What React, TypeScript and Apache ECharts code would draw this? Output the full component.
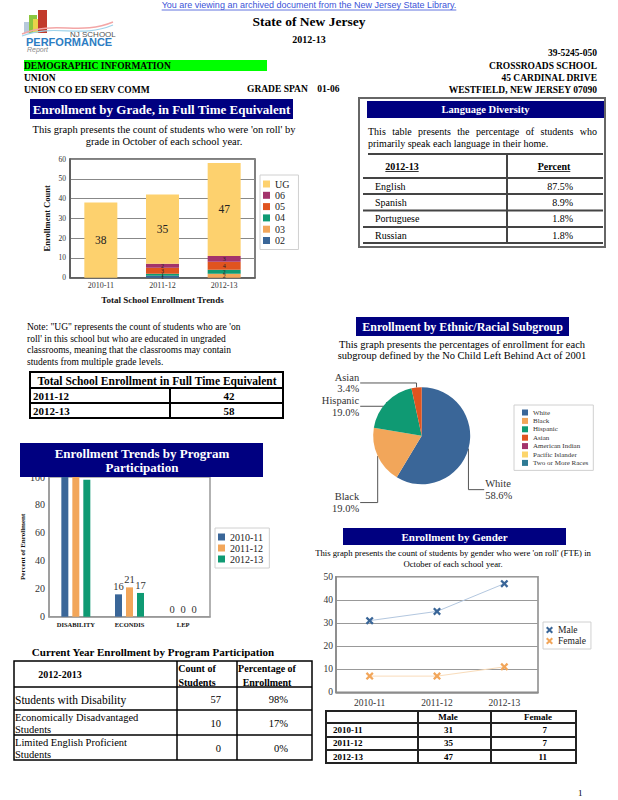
import React, { useEffect, useRef } from "react";
import * as echarts from "echarts";

// ---------------- DATA ----------------
const gradeYears = ["2010-11", "2011-12", "2012-13"];
const gradeLegendOrder = ["UG", "06", "05", "04", "03", "02"];
const grade02 = [0, 1, 0];
const grade03 = [0, 0, 2];
const grade04 = [0, 1, 2];
const grade05 = [0, 3, 4];
const grade06 = [0, 2, 3];
const gradeUG = [38, 35, 47];

const programCats = ["DISABILITY", "ECONDIS", "LEP"];
const programYears = ["2010-11", "2011-12", "2012-13"];
const program1011 = [100, 16, 0];
const program1112 = [100, 21, 0];
const program1213 = [98, 17, 0];

const ethnicNames = ["White", "Black", "Hispanic", "Asian", "American Indian", "Pacific Islander", "Two or More Races"];
const ethnicValues = [58.6, 19.0, 19.0, 3.4, 0, 0, 0];

const genderYears = ["2010-11", "2011-12", "2012-13"];
const maleValues = [31, 35, 47];
const femaleValues = [7, 7, 11];

const languageNames = ["English", "Spanish", "Portuguese", "Russian"];
const languagePercents = ["87.5%", "8.9%", "1.8%", "1.8%"];

const totalYears = ["2011-12", "2012-13"];
const totalValues = ["42", "58"];

const currentRowLabels = [["Students with Disability"], ["Economically Disadvantaged", "Students"], ["Limited English Proficient", "Students"]];
const currentCounts = ["57", "10", "0"];
const currentPercents = ["98%", "17%", "0%"];

// ---------------- STYLE ----------------
const SERIF = '"Liberation Serif", "Times New Roman", serif';
const SANS = '"Liberation Sans", Arial, sans-serif';
const NAVY = "#000080";
const C_BLUE = "#3a6698";
const C_LORANGE = "#f2a65a";
const C_GREEN = "#0f9a73";
const C_RED = "#e0541f";
const C_PURPLE = "#a3336b";
const C_YELLOW = "#fdd16e";
const C_TEAL = "#2e7a94";
const gradeColors: Record<string, string> = { "02": C_BLUE, "03": C_LORANGE, "04": C_GREEN, "05": C_RED, "06": C_PURPLE, UG: C_YELLOW };
const ethnicColors = [C_BLUE, C_LORANGE, C_GREEN, C_RED, C_PURPLE, "#fcd56b", C_TEAL];
const XPATH = "path://M2,0 L5,3 L8,0 L10,2 L7,5 L10,8 L8,10 L5,7 L2,10 L0,8 L3,5 L0,2 Z";

type TO = { size?: number; bold?: boolean; italic?: boolean; fill?: string; align?: string; family?: string };
function fontOf(o: TO) {
  return `${o.italic ? "italic " : ""}${o.bold ? "bold " : ""}${o.size ?? 10}px ${o.family ?? SERIF}`;
}
function T(x: number, y: number, text: string, o: TO = {}) {
  const a = o.align ?? "left";
  return {
    type: "text", x, y, z: 100, silent: true,
    style: { text, font: fontOf(o), fill: o.fill ?? "#000", textAlign: a, textVerticalAlign: "middle", align: a, verticalAlign: "middle" },
  };
}
function R(x: number, y: number, w: number, h: number, fill: string, stroke?: string, lw = 1) {
  return { type: "rect", z: 99, silent: true, shape: { x, y, width: w, height: h }, style: { fill, stroke: stroke ?? "none", lineWidth: stroke ? lw : 0 } };
}
function L(x1: number, y1: number, x2: number, y2: number, stroke = "#000", lw = 1) {
  return { type: "line", z: 100, silent: true, shape: { x1, y1, x2, y2 }, style: { stroke, lineWidth: lw } };
}
let ctx: CanvasRenderingContext2D | null = null;
function measure(text: string, o: TO) {
  if (!ctx) ctx = document.createElement("canvas").getContext("2d");
  if (!ctx) return text.length * (o.size ?? 10) * 0.5;
  ctx.font = fontOf(o);
  return ctx.measureText(text).width;
}
function justify(x1: number, x2: number, y: number, text: string, o: TO) {
  const words = text.split(" ");
  const ws = words.map((w) => measure(w, o));
  const sum = ws.reduce((a, b) => a + b, 0);
  const gap = (x2 - x1 - sum) / (words.length - 1);
  const out: any[] = [];
  let x = x1;
  words.forEach((w, i) => {
    out.push(T(x, y, w, o));
    x += ws[i] + gap;
  });
  return out;
}

function buildGraphic() {
  const g: any[] = [];
  // archive link
  const linkO: TO = { size: 9, family: SANS, fill: "#3a52d8", align: "center" };
  g.push(T(309, 5, "You are viewing an archived document from the New Jersey State Library.", linkO));
  const lw = measure("You are viewing an archived document from the New Jersey State Library.", linkO);
  g.push(L(309 - lw / 2, 10, 309 + lw / 2, 10, "#3a52d8", 0.8));

  // logo
  g.push(R(24, 22, 5, 11, "#b7c9db"));
  g.push(R(29, 15, 8, 18, "#8cc63f"));
  g.push(R(33, 19, 5, 14, "#e8d34a"));
  g.push(R(38, 10, 9, 23, "#c23a2b"));
  g.push({ type: "bezierCurve", z: 100, silent: true, shape: { x1: 22, y1: 34, cpx1: 55, cpy1: 20, cpx2: 80, cpy2: 36, x2: 113, y2: 22 }, style: { stroke: "#f3a6a6", lineWidth: 1.4, fill: "none" } });
  g.push({ type: "bezierCurve", z: 100, silent: true, shape: { x1: 22, y1: 36, cpx1: 55, cpy1: 23, cpx2: 80, cpy2: 39, x2: 113, y2: 25 }, style: { stroke: "#9fd3ea", lineWidth: 1.2, fill: "none" } });
  g.push(T(70, 34, "NJ SCHOOL", { size: 8, family: SANS, fill: "#555" }));
  g.push(T(26, 41.5, "PERFORMANCE", { size: 11, bold: true, family: SANS, fill: "#2c7dc3" }));
  g.push(T(27, 49.5, "Report", { size: 7, italic: true, family: SANS, fill: "#888" }));

  // header texts
  g.push(T(309, 21, "State of New Jersey", { size: 13.5, bold: true, align: "center" }));
  g.push(T(309, 39, "2012-13", { size: 10, bold: true, align: "center" }));
  g.push(T(597, 53, "39-5245-050", { size: 9.5, bold: true, align: "right" }));
  g.push(R(24, 60, 243, 11, "#00ff00"));
  g.push(T(24, 66, "DEMOGRAPHIC INFORMATION", { size: 9.5, bold: true }));
  g.push(T(597, 66, "CROSSROADS SCHOOL", { size: 9.5, bold: true, align: "right" }));
  g.push(T(24, 78, "UNION", { size: 9.5, bold: true }));
  g.push(T(597, 78, "45 CARDINAL DRIVE", { size: 9.5, bold: true, align: "right" }));
  g.push(T(24, 90, "UNION CO ED SERV COMM", { size: 9.5, bold: true }));
  g.push(T(247, 89, "GRADE SPAN    01-06", { size: 9.5, bold: true }));
  g.push(T(597, 90, "WESTFIELD, NEW JERSEY 07090", { size: 9.5, bold: true, align: "right" }));

  // Enrollment by grade header
  g.push(R(30, 99, 263, 20, NAVY));
  g.push(T(161.5, 109, "Enrollment by Grade, in Full Time Equivalent", { size: 13, bold: true, fill: "#fff", align: "center" }));
  g.push(T(164, 129, "This graph presents the count of students who were 'on roll' by", { size: 10.5, align: "center" }));
  g.push(T(164, 141, "grade in October of each school year.", { size: 10.5, align: "center" }));

  // Language diversity
  g.push(R(359, 98, 246, 149, "none", "#666", 2));
  g.push(R(367, 101, 237, 17, NAVY));
  g.push(T(485.5, 109.5, "Language Diversity", { size: 10.5, bold: true, fill: "#fff", align: "center" }));
  g.push(...justify(368, 597, 131, "This table presents the percentage of students who", { size: 10 }));
  g.push(T(368, 143, "primarily speak each language in their home.", { size: 10 }));
  const lRows = [154, 178, 194, 210.5, 227, 243];
  g.push(L(368, lRows[0], 603, lRows[0], "#444", 2));
  for (let i = 1; i < lRows.length; i++) g.push(L(363, lRows[i], 603, lRows[i], "#444", 2));
  g.push(L(507, lRows[0], 507, lRows[lRows.length - 1], "#444", 2));
  const hO: TO = { size: 10, bold: true, align: "center" };
  g.push(T(402, 166, "2012-13", hO));
  const w1 = measure("2012-13", hO);
  g.push(L(402 - w1 / 2, 171.5, 402 + w1 / 2, 171.5, "#000", 0.8));
  g.push(T(554, 166, "Percent", hO));
  const w2 = measure("Percent", hO);
  g.push(L(554 - w2 / 2, 171.5, 554 + w2 / 2, 171.5, "#000", 0.8));
  languageNames.forEach((n, i) => {
    const y = (lRows[i + 1] + lRows[i + 2]) / 2;
    g.push(T(375, y, n, { size: 10 }));
    g.push(T(573, y, languagePercents[i], { size: 10, align: "right" }));
  });

  // Note
  const noteLines = [
    "Note: \"UG\" represents the count of students who are 'on",
    "roll' in this school but who are educated in ungraded",
    "classrooms, meaning that the classrooms may contain",
    "students from multiple grade levels.",
  ];
  noteLines.forEach((t, i) => g.push(T(27, 327 + i * 11.6, t, { size: 9.5 })));

  // Total enrollment table
  g.push(R(30, 372, 253, 46, "none", "#000", 2));
  g.push(L(30, 388, 283, 388, "#000", 2));
  g.push(L(30, 403, 283, 403, "#000", 2));
  g.push(L(170, 388, 170, 418, "#000", 2));
  g.push(T(157, 380.5, "Total School Enrollment in Full Time Equivalent", { size: 11.5, bold: true, align: "center" }));
  totalYears.forEach((y, i) => {
    const cy = 395.5 + i * 15;
    g.push(T(33, cy, y, { size: 11, bold: true }));
    g.push(T(229, cy, totalValues[i], { size: 11, bold: true, align: "center" }));
  });

  // Program participation header
  g.push(R(20, 443, 243, 34, NAVY));
  g.push(T(142, 453.5, "Enrollment Trends by Program", { size: 13, bold: true, fill: "#fff", align: "center" }));
  g.push(T(142, 467, "Participation", { size: 13, bold: true, fill: "#fff", align: "center" }));

  // Current Year table
  g.push(T(153, 652, "Current Year Enrollment by Program Participation", { size: 11, bold: true, align: "center" }));
  g.push(R(14, 661, 298, 99, "none", "#000", 1.5));
  [687, 710, 735].forEach((y) => g.push(L(14, y, 312, y, "#000", 1.5)));
  g.push(L(177, 661, 177, 760, "#000", 1.5));
  g.push(L(237, 661, 237, 760, "#000", 1.5));
  g.push(T(60, 674, "2012-2013", { size: 10, bold: true, align: "center" }));
  g.push(T(197, 668, "Count of", { size: 10, bold: true, align: "center" }));
  g.push(T(197, 682, "Students", { size: 10, bold: true, align: "center" }));
  g.push(T(267, 668, "Percentage of", { size: 10, bold: true, align: "center" }));
  g.push(T(267, 682, "Enrollment", { size: 10, bold: true, align: "center" }));
  const cRows = [[687, 710], [710, 735], [735, 760]];
  currentRowLabels.forEach((lines, i) => {
    const [a, b] = cRows[i];
    const mid = (a + b) / 2;
    if (lines.length === 1) g.push(T(15, mid + 1, lines[0], { size: 11.5 }));
    else {
      g.push(T(15, mid - 5.5, lines[0], { size: 10.5 }));
      g.push(T(15, mid + 6.5, lines[1], { size: 10.5 }));
    }
    g.push(T(221, mid + 1, currentCounts[i], { size: 10.5, align: "right" }));
    g.push(T(288, mid + 1, currentPercents[i], { size: 10.5, align: "right" }));
  });

  // Ethnic header
  g.push(R(356, 317, 213, 19, NAVY));
  g.push(T(462.5, 326.5, "Enrollment by Ethnic/Racial Subgroup", { size: 12, bold: true, fill: "#fff", align: "center" }));
  g.push(T(462, 344, "This graph presents the percentages of enrollment for each", { size: 10.5, align: "center" }));
  g.push(T(462, 355.5, "subgroup defined by the No Child Left Behind Act of 2001", { size: 10.5, align: "center" }));

  // Gender header
  g.push(R(343, 528, 223, 17, NAVY));
  g.push(T(454.5, 536.5, "Enrollment by Gender", { size: 11, bold: true, fill: "#fff", align: "center" }));
  g.push(T(453, 553, "This graph presents the count of students by gender who were 'on roll' (FTE) in", { size: 8.7, align: "center" }));
  g.push(T(453, 563.5, "October of each school year.", { size: 8.7, align: "center" }));

  // Gender table
  g.push(R(326, 711, 250, 52, "none", "#222", 2));
  [723, 737, 750].forEach((y) => g.push(L(326, y, 576, y, "#222", 2)));
  g.push(L(418, 711, 418, 763, "#222", 2));
  g.push(L(491, 711, 491, 763, "#222", 2));
  g.push(T(448, 717, "Male", { size: 9, bold: true, align: "center" }));
  g.push(T(538, 717, "Female", { size: 9, bold: true, align: "center" }));
  genderYears.forEach((y, i) => {
    const cy = 730 + i * 13.3;
    g.push(T(333, cy, y, { size: 9, bold: true }));
    g.push(T(448.5, cy, String(maleValues[i]), { size: 9, bold: true, align: "center" }));
    g.push(T(547, cy, String(femaleValues[i]), { size: 9, bold: true, align: "right" }));
  });

  g.push(T(578, 793, "1", { size: 9 }));
  return g;
}

const pieCX = 421.7;
const pieCY = 435.7;
const pieR = 48.5;
const pieLabelDrop: Record<string, number> = { White: 41, Black: 46.5, Hispanic: 4, Asian: -4.5 };

function buildOption(): any {
  const axisLab = { fontFamily: SERIF, color: "#333" };
  const gradeSeriesData: Record<string, number[]> = { "02": grade02, "03": grade03, "04": grade04, "05": grade05, "06": grade06, UG: gradeUG };
  const gradeSeries = ["02", "03", "04", "05", "06", "UG"].map((k) => ({
    name: k,
    type: "bar",
    xAxisIndex: 0,
    yAxisIndex: 0,
    stack: "grade",
    barWidth: 33,
    data: gradeSeriesData[k],
    itemStyle: { color: gradeColors[k] },
    label: {
      show: true,
      position: "inside",
      fontFamily: SERIF,
      fontSize: k === "UG" ? 11.5 : 6,
      color: "#222",
      formatter: (p: any) => (p.value ? String(p.value) : ""),
    },
  }));
  const progData = [program1011, program1112, program1213];
  const progColors = [C_BLUE, C_LORANGE, C_GREEN];
  const programSeries = programYears.map((y, i) => ({
    name: y,
    type: "bar",
    xAxisIndex: 1,
    yAxisIndex: 1,
    barWidth: 7,
    barGap: "57%",
    data: progData[i],
    itemStyle: { color: progColors[i] },
    label: { show: true, position: "top", distance: 2, fontFamily: SERIF, fontSize: 10.5, color: "#333" },
  }));
  const legendBase = {
    orient: "vertical",
    selectedMode: false,
    icon: "rect",
    borderColor: "#d0d0d0",
    borderWidth: 1,
    backgroundColor: "#fff",
  };
  return {
    animation: false,
    textStyle: { fontFamily: SERIF },
    grid: [
      { left: 70, top: 159, width: 185, height: 118.7, show: true, borderColor: "#555", borderWidth: 1.5, backgroundColor: "transparent", outerBoundsMode: "none" },
      { left: 49, top: 477, width: 161, height: 139.7, show: true, borderColor: "#999", borderWidth: 1.5, backgroundColor: "transparent", outerBoundsMode: "none" },
      { left: 336, top: 576.7, width: 202, height: 115.6, show: true, borderColor: "#888", borderWidth: 1.5, backgroundColor: "transparent", outerBoundsMode: "none" },
    ],
    xAxis: [
      {
        gridIndex: 0, type: "category", data: gradeYears,
        axisTick: { show: false }, axisLine: { lineStyle: { color: "#555", width: 1.5 } },
        axisLabel: { ...axisLab, fontSize: 8, margin: 4 },
        name: "Total School Enrollment Trends", nameLocation: "middle", nameGap: 18,
        nameTextStyle: { fontFamily: SERIF, fontWeight: "bold", fontSize: 9, color: "#111" },
      },
      {
        gridIndex: 1, type: "category", data: programCats,
        axisTick: { show: false }, axisLine: { lineStyle: { color: "#999", width: 1.5 } },
        axisLabel: { ...axisLab, fontSize: 6.5, fontWeight: "bold", margin: 4, color: "#111" },
      },
      {
        gridIndex: 2, type: "category", data: genderYears,
        axisTick: { show: false }, axisLine: { lineStyle: { color: "#888", width: 1.5 } },
        axisLabel: { ...axisLab, fontSize: 9.5, margin: 6 },
      },
    ],
    yAxis: [
      {
        gridIndex: 0, type: "value", min: 0, max: 60, interval: 10,
        axisLine: { show: true, lineStyle: { color: "#555", width: 1.5 } }, axisTick: { show: false },
        splitLine: { lineStyle: { color: "#888", width: 1 } },
        axisLabel: { ...axisLab, fontSize: 7.5, margin: 4 },
        name: "Enrollment Count", nameLocation: "middle", nameGap: 19, nameRotate: 90,
        nameTextStyle: { fontFamily: SERIF, fontWeight: "bold", fontSize: 8.5, color: "#111" },
      },
      {
        gridIndex: 1, type: "value", min: 0, max: 100, interval: 20,
        axisLine: { show: true, lineStyle: { color: "#999", width: 1.5 } }, axisTick: { show: false },
        splitLine: { show: false },
        axisLabel: { ...axisLab, fontSize: 10, margin: 4 },
        name: "Percent of Enrollment", nameLocation: "middle", nameGap: 22, nameRotate: 90,
        nameTextStyle: { fontFamily: SERIF, fontWeight: "bold", fontSize: 7, color: "#111" },
      },
      {
        gridIndex: 2, type: "value", min: 0, max: 50, interval: 10,
        axisLine: { show: true, lineStyle: { color: "#888", width: 1.5 } }, axisTick: { show: false },
        splitLine: { lineStyle: { color: "#999", width: 1 } },
        axisLabel: { ...axisLab, fontSize: 9.5, margin: 3 },
      },
    ],
    legend: [
      {
        ...legendBase, data: gradeLegendOrder, left: 260, top: 175,
        itemWidth: 7, itemHeight: 7, itemGap: 1.3, padding: [4, 9, 4, 3],
        textStyle: { fontFamily: SERIF, fontSize: 10, color: "#222", lineHeight: 10 },
      },
      {
        ...legendBase, data: programYears, left: 215, top: 528,
        itemWidth: 7, itemHeight: 7, itemGap: 1, padding: [4, 6, 4, 3],
        textStyle: { fontFamily: SERIF, fontSize: 10, color: "#222", lineHeight: 10 },
      },
      {
        ...legendBase, data: ethnicNames, left: 514, top: 405,
        itemWidth: 6, itemHeight: 6, itemGap: 1.4, padding: [4, 5, 4, 8],
        textStyle: { fontFamily: SERIF, fontSize: 7, color: "#333", lineHeight: 7 },
      },
      {
        ...legendBase, data: ["Male", "Female"], left: 543, top: 622, icon: XPATH,
        itemWidth: 7, itemHeight: 7, itemGap: 1, padding: [3, 5, 3, 3],
        textStyle: { fontFamily: SERIF, fontSize: 9.5, color: "#222", lineHeight: 9.5 },
      },
    ],
    series: [
      ...gradeSeries,
      ...programSeries,
      {
        name: "Ethnic",
        type: "pie",
        center: [pieCX, pieCY],
        radius: pieR,
        startAngle: 90,
        clockwise: true,
        silent: true,
        data: ethnicNames.map((n, i) => ({
          name: n,
          value: ethnicValues[i],
          itemStyle: { color: ethnicColors[i] },
          label: { show: ethnicValues[i] > 0 },
          labelLine: { show: ethnicValues[i] > 0 },
        })),
        label: {
          formatter: (p: any) => `${p.name}\n${Number(p.value).toFixed(1)}%`,
          fontFamily: SERIF, fontSize: 10.5, color: "#333", lineHeight: 11.5,
        },
        labelLine: { show: true, length: 5, length2: 10, lineStyle: { color: "#555", width: 1 } },
        labelLayout: (params: any) => {
          const name = ethnicNames[params.dataIndex];
          const pts = params.labelLinePoints;
          if (!pts || !pts[0]) return {};
          const p0 = pts[0];
          const left = p0[0] < pieCX;
          const y = p0[1] + (pieLabelDrop[name] ?? 0);
          const x = left ? pieCX - pieR - 12 - 2 : pieCX + pieR + 15;
          return {
            x, y, align: left ? "right" : "left", verticalAlign: "middle",
            labelLinePoints: [[p0[0], p0[1]], [p0[0], y], [left ? x + 1 : x - 1, y]],
          };
        },
      },
      {
        name: "Male", type: "line", xAxisIndex: 2, yAxisIndex: 2, data: maleValues,
        symbol: XPATH, symbolSize: 8, itemStyle: { color: C_BLUE }, lineStyle: { color: "#b3c7df", width: 1 },
      },
      {
        name: "Female", type: "line", xAxisIndex: 2, yAxisIndex: 2, data: femaleValues,
        symbol: XPATH, symbolSize: 8, itemStyle: { color: C_LORANGE }, lineStyle: { color: "#f9dcba", width: 1 },
      },
    ],
    graphic: { elements: buildGraphic() },
  };
}

export default function App() {
  const ref = useRef<HTMLDivElement>(null);
  useEffect(() => {
    if (!ref.current) return;
    const chart = echarts.init(ref.current, null, { renderer: "svg" });
    chart.setOption(buildOption());
    return () => chart.dispose();
  }, []);
  return <div ref={ref} style={{ position: "absolute", left: 0, top: 0, width: 618, height: 800, background: "#fff" }} />;
}
